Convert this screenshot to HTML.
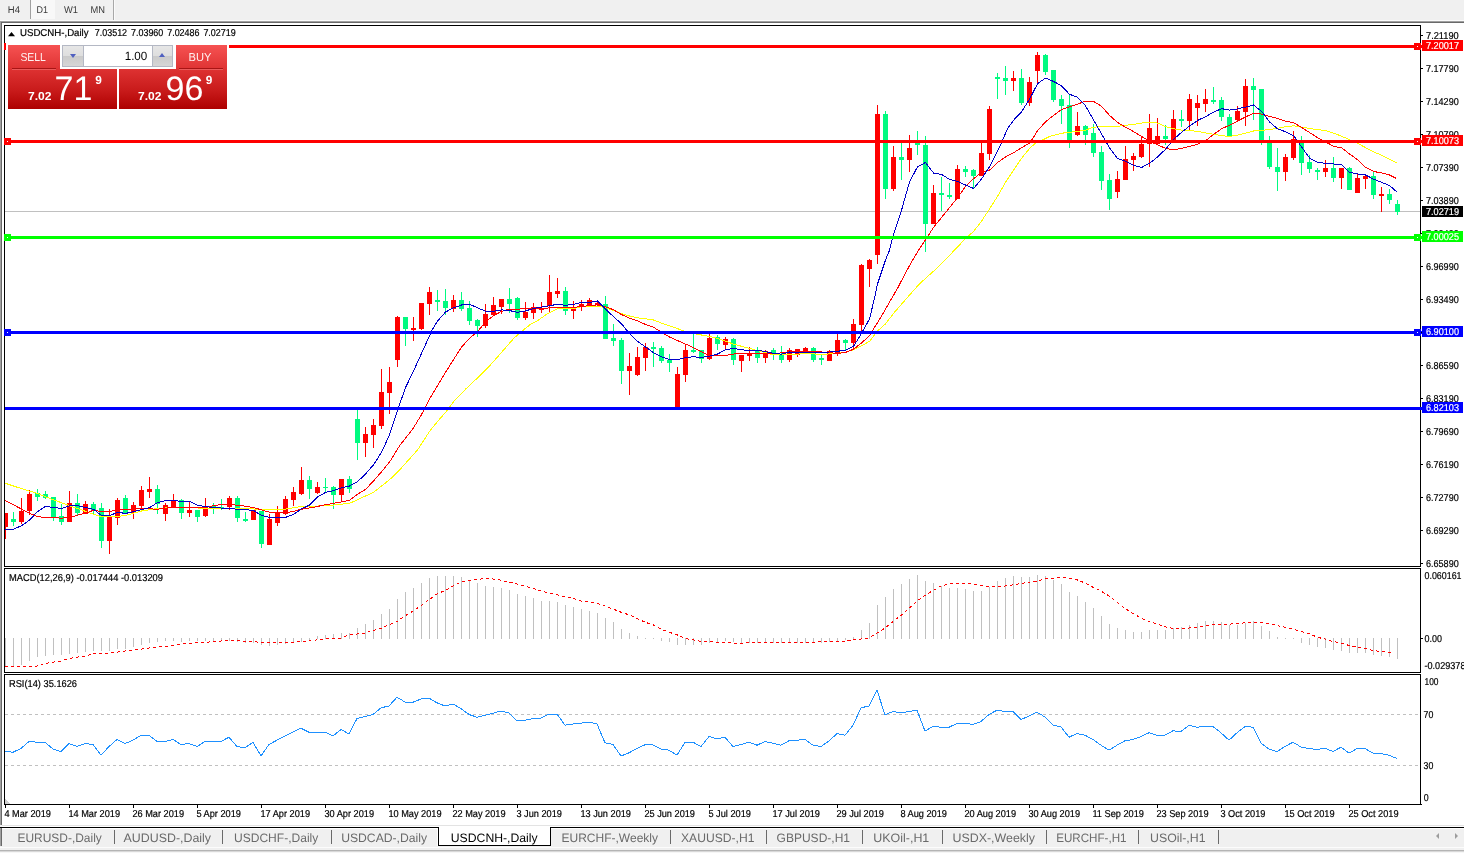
<!DOCTYPE html><html><head><meta charset="utf-8"><title>USDCNH-,Daily</title><style>
html,body{margin:0;padding:0;}
body{width:1464px;height:853px;overflow:hidden;background:#f0f0f0;font-family:"Liberation Sans",sans-serif;position:relative;}
.abs{position:absolute;}
#tb{left:0;top:0;width:1464px;height:21px;background:#f0f0f0;}
#tb span{position:absolute;top:3px;font-size:10.5px;color:#3c3c3c;line-height:13px;}
#white{left:2px;top:23px;width:1462px;height:804px;background:#fff;}
#lbar{left:0;top:22px;width:1px;height:803px;background:#a0a0a0;border-right:1px solid #696969;}
svg{position:absolute;left:0;top:0;}
svg text{font-family:"Liberation Sans",sans-serif;text-rendering:geometricPrecision;}
#tabs{left:0;top:827px;width:1464px;height:26px;background:#f0f0f0;}
.tab{position:absolute;top:830px;font-size:12px;line-height:15px;color:#6e6e6e;white-space:nowrap;}
.sep{position:absolute;top:831px;width:1px;height:15px;background:#707070;}
#panel div{position:absolute;}
.btxt{color:#fff;font-weight:bold;font-size:11px;line-height:11px;}
.big{color:#fff;font-size:34px;line-height:34px;}

</style></head><body>
<div id="tb" class="abs">
<div class="abs" style="left:30px;top:0;width:1px;height:19px;background:#a0a0a0"></div>
<div class="abs" style="left:31px;top:0;width:24px;height:19px;background:#f8f8f8"></div>
<div class="abs" style="left:113px;top:0;width:1px;height:21px;background:#a8a8a8"></div>
<div class="abs" style="left:114px;top:0;width:1px;height:21px;background:#fafafa"></div>
</div>
<div class="abs" style="left:0;top:20px;width:1464px;height:1px;background:#fbfbfb"></div>
<div class="abs" style="left:0;top:21px;width:1464px;height:1px;background:#a0a0a0"></div>
<div class="abs" style="left:1px;top:22px;width:1463px;height:1px;background:#696969"></div>
<div id="white" class="abs"></div><div id="lbar" class="abs"></div>
<div id="tabs" class="abs"></div>
<svg width="1464" height="853" viewBox="0 0 1464 853" shape-rendering="crispEdges">
<rect x="4" y="25" width="1417" height="1" fill="#000"/>
<rect x="4" y="25" width="1" height="542" fill="#000"/>
<rect x="4" y="566" width="1417" height="1" fill="#000"/>
<rect x="1420" y="25" width="1" height="542" fill="#000"/>
<rect x="1420" y="568" width="1" height="105" fill="#000"/>
<rect x="1420" y="674" width="1" height="131" fill="#000"/>
<rect x="4" y="568" width="1417" height="1" fill="#000"/>
<rect x="4" y="568" width="1" height="105" fill="#000"/>
<rect x="4" y="672" width="1417" height="1" fill="#000"/>
<rect x="4" y="674" width="1417" height="1" fill="#000"/>
<rect x="4" y="674" width="1" height="131" fill="#000"/>
<rect x="4" y="804" width="1417" height="1" fill="#000"/>
<rect x="1421" y="804" width="1" height="1" fill="#000"/>
<rect x="5" y="211" width="1415" height="1" fill="#c0c0c0"/>
<rect x="5" y="513" width="1" height="26" fill="#FF0000"/>
<rect x="5" y="513" width="3" height="14" fill="#FF0000"/>
<rect x="13" y="512" width="1" height="14" fill="#00FA80"/>
<rect x="11" y="519" width="5" height="3" fill="#00FA80"/>
<rect x="21" y="498" width="1" height="26" fill="#FF0000"/>
<rect x="19" y="511" width="5" height="11" fill="#FF0000"/>
<rect x="29" y="490" width="1" height="25" fill="#FF0000"/>
<rect x="27" y="494" width="5" height="17" fill="#FF0000"/>
<rect x="37" y="489" width="1" height="12" fill="#00FA80"/>
<rect x="35" y="493" width="5" height="4" fill="#00FA80"/>
<rect x="45" y="491" width="1" height="8" fill="#00FA80"/>
<rect x="43" y="494" width="5" height="4" fill="#00FA80"/>
<rect x="53" y="497" width="1" height="24" fill="#00FA80"/>
<rect x="51" y="497" width="5" height="21" fill="#00FA80"/>
<rect x="61" y="504" width="1" height="21" fill="#00FA80"/>
<rect x="59" y="516" width="5" height="6" fill="#00FA80"/>
<rect x="69" y="491" width="1" height="31" fill="#FF0000"/>
<rect x="67" y="503" width="5" height="19" fill="#FF0000"/>
<rect x="77" y="494" width="1" height="21" fill="#00FA80"/>
<rect x="75" y="503" width="5" height="10" fill="#00FA80"/>
<rect x="85" y="501" width="1" height="13" fill="#FF0000"/>
<rect x="83" y="504" width="5" height="10" fill="#FF0000"/>
<rect x="93" y="502" width="1" height="12" fill="#00FA80"/>
<rect x="91" y="504" width="5" height="6" fill="#00FA80"/>
<rect x="101" y="503" width="1" height="45" fill="#00FA80"/>
<rect x="99" y="508" width="5" height="33" fill="#00FA80"/>
<rect x="109" y="509" width="1" height="45" fill="#FF0000"/>
<rect x="107" y="517" width="5" height="24" fill="#FF0000"/>
<rect x="117" y="498" width="1" height="27" fill="#FF0000"/>
<rect x="115" y="500" width="5" height="18" fill="#FF0000"/>
<rect x="125" y="495" width="1" height="19" fill="#00FA80"/>
<rect x="123" y="498" width="5" height="15" fill="#00FA80"/>
<rect x="133" y="502" width="1" height="17" fill="#FF0000"/>
<rect x="131" y="505" width="5" height="8" fill="#FF0000"/>
<rect x="141" y="486" width="1" height="24" fill="#FF0000"/>
<rect x="139" y="490" width="5" height="16" fill="#FF0000"/>
<rect x="149" y="477" width="1" height="21" fill="#FF0000"/>
<rect x="147" y="489" width="5" height="3" fill="#FF0000"/>
<rect x="157" y="485" width="1" height="29" fill="#00FA80"/>
<rect x="155" y="489" width="5" height="15" fill="#00FA80"/>
<rect x="165" y="503" width="1" height="18" fill="#FF0000"/>
<rect x="163" y="505" width="5" height="9" fill="#FF0000"/>
<rect x="173" y="494" width="1" height="13" fill="#FF0000"/>
<rect x="171" y="500" width="5" height="7" fill="#FF0000"/>
<rect x="181" y="499" width="1" height="20" fill="#00FA80"/>
<rect x="179" y="500" width="5" height="13" fill="#00FA80"/>
<rect x="189" y="502" width="1" height="15" fill="#FF0000"/>
<rect x="187" y="510" width="5" height="3" fill="#FF0000"/>
<rect x="197" y="510" width="1" height="12" fill="#00FA80"/>
<rect x="195" y="510" width="5" height="7" fill="#00FA80"/>
<rect x="205" y="498" width="1" height="19" fill="#FF0000"/>
<rect x="203" y="506" width="5" height="10" fill="#FF0000"/>
<rect x="213" y="503" width="1" height="11" fill="#00FA80"/>
<rect x="211" y="506" width="5" height="3" fill="#00FA80"/>
<rect x="221" y="499" width="1" height="11" fill="#00FA80"/>
<rect x="219" y="507" width="5" height="2" fill="#00FA80"/>
<rect x="229" y="496" width="1" height="14" fill="#FF0000"/>
<rect x="227" y="498" width="5" height="9" fill="#FF0000"/>
<rect x="237" y="496" width="1" height="26" fill="#00FA80"/>
<rect x="235" y="498" width="5" height="20" fill="#00FA80"/>
<rect x="245" y="512" width="1" height="10" fill="#00FA80"/>
<rect x="243" y="519" width="5" height="2" fill="#00FA80"/>
<rect x="253" y="510" width="1" height="10" fill="#FF0000"/>
<rect x="251" y="510" width="5" height="10" fill="#FF0000"/>
<rect x="261" y="511" width="1" height="37" fill="#00FA80"/>
<rect x="259" y="511" width="5" height="33" fill="#00FA80"/>
<rect x="269" y="514" width="1" height="31" fill="#FF0000"/>
<rect x="267" y="519" width="5" height="26" fill="#FF0000"/>
<rect x="277" y="506" width="1" height="20" fill="#FF0000"/>
<rect x="275" y="512" width="5" height="11" fill="#FF0000"/>
<rect x="285" y="496" width="1" height="19" fill="#FF0000"/>
<rect x="283" y="499" width="5" height="15" fill="#FF0000"/>
<rect x="293" y="487" width="1" height="19" fill="#FF0000"/>
<rect x="291" y="492" width="5" height="8" fill="#FF0000"/>
<rect x="301" y="467" width="1" height="28" fill="#FF0000"/>
<rect x="299" y="480" width="5" height="14" fill="#FF0000"/>
<rect x="309" y="476" width="1" height="23" fill="#00FA80"/>
<rect x="307" y="480" width="5" height="9" fill="#00FA80"/>
<rect x="317" y="482" width="1" height="12" fill="#FF0000"/>
<rect x="315" y="487" width="5" height="6" fill="#FF0000"/>
<rect x="325" y="478" width="1" height="15" fill="#00FA80"/>
<rect x="323" y="487" width="5" height="1" fill="#00FA80"/>
<rect x="333" y="486" width="1" height="23" fill="#00FA80"/>
<rect x="331" y="487" width="5" height="8" fill="#00FA80"/>
<rect x="341" y="479" width="1" height="22" fill="#FF0000"/>
<rect x="339" y="479" width="5" height="16" fill="#FF0000"/>
<rect x="349" y="476" width="1" height="17" fill="#00FA80"/>
<rect x="347" y="479" width="5" height="10" fill="#00FA80"/>
<rect x="357" y="410" width="1" height="50" fill="#00FA80"/>
<rect x="355" y="419" width="5" height="24" fill="#00FA80"/>
<rect x="365" y="427" width="1" height="30" fill="#FF0000"/>
<rect x="363" y="434" width="5" height="9" fill="#FF0000"/>
<rect x="373" y="419" width="1" height="29" fill="#FF0000"/>
<rect x="371" y="425" width="5" height="10" fill="#FF0000"/>
<rect x="381" y="369" width="1" height="60" fill="#FF0000"/>
<rect x="379" y="392" width="5" height="34" fill="#FF0000"/>
<rect x="389" y="367" width="1" height="47" fill="#FF0000"/>
<rect x="387" y="382" width="5" height="11" fill="#FF0000"/>
<rect x="397" y="316" width="1" height="51" fill="#FF0000"/>
<rect x="395" y="317" width="5" height="43" fill="#FF0000"/>
<rect x="405" y="317" width="1" height="29" fill="#00FA80"/>
<rect x="403" y="317" width="5" height="12" fill="#00FA80"/>
<rect x="413" y="317" width="1" height="24" fill="#FF0000"/>
<rect x="411" y="328" width="5" height="2" fill="#FF0000"/>
<rect x="421" y="303" width="1" height="27" fill="#FF0000"/>
<rect x="419" y="303" width="5" height="26" fill="#FF0000"/>
<rect x="429" y="287" width="1" height="28" fill="#FF0000"/>
<rect x="427" y="292" width="5" height="12" fill="#FF0000"/>
<rect x="437" y="290" width="1" height="21" fill="#00FA80"/>
<rect x="435" y="300" width="5" height="2" fill="#00FA80"/>
<rect x="445" y="289" width="1" height="26" fill="#00FA80"/>
<rect x="443" y="301" width="5" height="7" fill="#00FA80"/>
<rect x="453" y="295" width="1" height="17" fill="#FF0000"/>
<rect x="451" y="300" width="5" height="9" fill="#FF0000"/>
<rect x="461" y="292" width="1" height="19" fill="#00FA80"/>
<rect x="459" y="300" width="5" height="9" fill="#00FA80"/>
<rect x="469" y="301" width="1" height="24" fill="#00FA80"/>
<rect x="467" y="308" width="5" height="13" fill="#00FA80"/>
<rect x="477" y="319" width="1" height="18" fill="#00FA80"/>
<rect x="475" y="320" width="5" height="6" fill="#00FA80"/>
<rect x="485" y="304" width="1" height="24" fill="#FF0000"/>
<rect x="483" y="314" width="5" height="12" fill="#FF0000"/>
<rect x="493" y="297" width="1" height="18" fill="#FF0000"/>
<rect x="491" y="305" width="5" height="10" fill="#FF0000"/>
<rect x="501" y="299" width="1" height="15" fill="#FF0000"/>
<rect x="499" y="299" width="5" height="8" fill="#FF0000"/>
<rect x="509" y="288" width="1" height="25" fill="#00FA80"/>
<rect x="507" y="299" width="5" height="5" fill="#00FA80"/>
<rect x="517" y="297" width="1" height="23" fill="#00FA80"/>
<rect x="515" y="298" width="5" height="20" fill="#00FA80"/>
<rect x="525" y="302" width="1" height="18" fill="#FF0000"/>
<rect x="523" y="312" width="5" height="6" fill="#FF0000"/>
<rect x="533" y="303" width="1" height="16" fill="#FF0000"/>
<rect x="531" y="307" width="5" height="6" fill="#FF0000"/>
<rect x="541" y="302" width="1" height="11" fill="#FF0000"/>
<rect x="539" y="308" width="5" height="2" fill="#FF0000"/>
<rect x="549" y="275" width="1" height="38" fill="#FF0000"/>
<rect x="547" y="292" width="5" height="14" fill="#FF0000"/>
<rect x="557" y="278" width="1" height="20" fill="#FF0000"/>
<rect x="555" y="291" width="5" height="3" fill="#FF0000"/>
<rect x="565" y="287" width="1" height="28" fill="#00FA80"/>
<rect x="563" y="291" width="5" height="20" fill="#00FA80"/>
<rect x="573" y="301" width="1" height="18" fill="#FF0000"/>
<rect x="571" y="308" width="5" height="3" fill="#FF0000"/>
<rect x="581" y="300" width="1" height="11" fill="#FF0000"/>
<rect x="579" y="304" width="5" height="3" fill="#FF0000"/>
<rect x="589" y="298" width="1" height="8" fill="#FF0000"/>
<rect x="587" y="300" width="5" height="5" fill="#FF0000"/>
<rect x="597" y="300" width="1" height="6" fill="#FF0000"/>
<rect x="595" y="303" width="5" height="2" fill="#FF0000"/>
<rect x="605" y="296" width="1" height="43" fill="#00FA80"/>
<rect x="603" y="304" width="5" height="35" fill="#00FA80"/>
<rect x="613" y="324" width="1" height="22" fill="#00FA80"/>
<rect x="611" y="338" width="5" height="3" fill="#00FA80"/>
<rect x="621" y="338" width="1" height="46" fill="#00FA80"/>
<rect x="619" y="340" width="5" height="31" fill="#00FA80"/>
<rect x="629" y="353" width="1" height="42" fill="#FF0000"/>
<rect x="627" y="366" width="5" height="5" fill="#FF0000"/>
<rect x="637" y="347" width="1" height="29" fill="#FF0000"/>
<rect x="635" y="357" width="5" height="18" fill="#FF0000"/>
<rect x="645" y="343" width="1" height="28" fill="#FF0000"/>
<rect x="643" y="347" width="5" height="11" fill="#FF0000"/>
<rect x="653" y="342" width="1" height="25" fill="#00FA80"/>
<rect x="651" y="347" width="5" height="2" fill="#00FA80"/>
<rect x="661" y="346" width="1" height="17" fill="#00FA80"/>
<rect x="659" y="348" width="5" height="13" fill="#00FA80"/>
<rect x="669" y="354" width="1" height="18" fill="#00FA80"/>
<rect x="667" y="360" width="5" height="3" fill="#00FA80"/>
<rect x="677" y="367" width="1" height="41" fill="#FF0000"/>
<rect x="675" y="374" width="5" height="34" fill="#FF0000"/>
<rect x="685" y="345" width="1" height="37" fill="#FF0000"/>
<rect x="683" y="350" width="5" height="25" fill="#FF0000"/>
<rect x="693" y="334" width="1" height="19" fill="#00FA80"/>
<rect x="691" y="350" width="5" height="2" fill="#00FA80"/>
<rect x="701" y="350" width="1" height="13" fill="#00FA80"/>
<rect x="699" y="350" width="5" height="9" fill="#00FA80"/>
<rect x="709" y="334" width="1" height="26" fill="#FF0000"/>
<rect x="707" y="338" width="5" height="21" fill="#FF0000"/>
<rect x="717" y="335" width="1" height="15" fill="#00FA80"/>
<rect x="715" y="337" width="5" height="7" fill="#00FA80"/>
<rect x="725" y="337" width="1" height="13" fill="#FF0000"/>
<rect x="723" y="339" width="5" height="6" fill="#FF0000"/>
<rect x="733" y="338" width="1" height="27" fill="#00FA80"/>
<rect x="731" y="339" width="5" height="21" fill="#00FA80"/>
<rect x="741" y="355" width="1" height="17" fill="#FF0000"/>
<rect x="739" y="355" width="5" height="6" fill="#FF0000"/>
<rect x="749" y="347" width="1" height="14" fill="#FF0000"/>
<rect x="747" y="353" width="5" height="3" fill="#FF0000"/>
<rect x="757" y="347" width="1" height="16" fill="#00FA80"/>
<rect x="755" y="351" width="5" height="7" fill="#00FA80"/>
<rect x="765" y="350" width="1" height="13" fill="#FF0000"/>
<rect x="763" y="351" width="5" height="7" fill="#FF0000"/>
<rect x="773" y="348" width="1" height="12" fill="#00FA80"/>
<rect x="771" y="350" width="5" height="5" fill="#00FA80"/>
<rect x="781" y="346" width="1" height="17" fill="#00FA80"/>
<rect x="779" y="354" width="5" height="6" fill="#00FA80"/>
<rect x="789" y="348" width="1" height="14" fill="#FF0000"/>
<rect x="787" y="350" width="5" height="10" fill="#FF0000"/>
<rect x="797" y="349" width="1" height="8" fill="#FF0000"/>
<rect x="795" y="349" width="5" height="6" fill="#FF0000"/>
<rect x="805" y="347" width="1" height="5" fill="#FF0000"/>
<rect x="803" y="348" width="5" height="3" fill="#FF0000"/>
<rect x="813" y="347" width="1" height="15" fill="#00FA80"/>
<rect x="811" y="348" width="5" height="12" fill="#00FA80"/>
<rect x="821" y="355" width="1" height="10" fill="#00FA80"/>
<rect x="819" y="358" width="5" height="2" fill="#00FA80"/>
<rect x="829" y="350" width="1" height="11" fill="#FF0000"/>
<rect x="827" y="351" width="5" height="10" fill="#FF0000"/>
<rect x="837" y="334" width="1" height="22" fill="#FF0000"/>
<rect x="835" y="340" width="5" height="14" fill="#FF0000"/>
<rect x="845" y="339" width="1" height="11" fill="#00FA80"/>
<rect x="843" y="340" width="5" height="3" fill="#00FA80"/>
<rect x="853" y="319" width="1" height="30" fill="#FF0000"/>
<rect x="851" y="324" width="5" height="19" fill="#FF0000"/>
<rect x="861" y="264" width="1" height="67" fill="#FF0000"/>
<rect x="859" y="265" width="5" height="60" fill="#FF0000"/>
<rect x="869" y="259" width="1" height="28" fill="#FF0000"/>
<rect x="867" y="260" width="5" height="9" fill="#FF0000"/>
<rect x="877" y="105" width="1" height="159" fill="#FF0000"/>
<rect x="875" y="114" width="5" height="141" fill="#FF0000"/>
<rect x="885" y="111" width="1" height="88" fill="#00FA80"/>
<rect x="883" y="114" width="5" height="75" fill="#00FA80"/>
<rect x="893" y="146" width="1" height="45" fill="#FF0000"/>
<rect x="891" y="157" width="5" height="32" fill="#FF0000"/>
<rect x="901" y="143" width="1" height="37" fill="#00FA80"/>
<rect x="899" y="157" width="5" height="3" fill="#00FA80"/>
<rect x="909" y="135" width="1" height="37" fill="#FF0000"/>
<rect x="907" y="148" width="5" height="12" fill="#FF0000"/>
<rect x="917" y="131" width="1" height="24" fill="#00FA80"/>
<rect x="915" y="143" width="5" height="2" fill="#00FA80"/>
<rect x="925" y="136" width="1" height="116" fill="#00FA80"/>
<rect x="923" y="145" width="5" height="79" fill="#00FA80"/>
<rect x="933" y="185" width="1" height="39" fill="#FF0000"/>
<rect x="931" y="193" width="5" height="31" fill="#FF0000"/>
<rect x="941" y="177" width="1" height="34" fill="#00FA80"/>
<rect x="939" y="193" width="5" height="2" fill="#00FA80"/>
<rect x="949" y="183" width="1" height="16" fill="#00FA80"/>
<rect x="947" y="195" width="5" height="2" fill="#00FA80"/>
<rect x="957" y="165" width="1" height="34" fill="#FF0000"/>
<rect x="955" y="169" width="5" height="30" fill="#FF0000"/>
<rect x="965" y="166" width="1" height="11" fill="#00FA80"/>
<rect x="963" y="169" width="5" height="3" fill="#00FA80"/>
<rect x="973" y="169" width="1" height="19" fill="#00FA80"/>
<rect x="971" y="170" width="5" height="6" fill="#00FA80"/>
<rect x="981" y="143" width="1" height="33" fill="#FF0000"/>
<rect x="979" y="153" width="5" height="23" fill="#FF0000"/>
<rect x="989" y="106" width="1" height="54" fill="#FF0000"/>
<rect x="987" y="109" width="5" height="45" fill="#FF0000"/>
<rect x="997" y="73" width="1" height="26" fill="#00FA80"/>
<rect x="995" y="77" width="5" height="2" fill="#00FA80"/>
<rect x="1005" y="66" width="1" height="29" fill="#00FA80"/>
<rect x="1003" y="78" width="5" height="3" fill="#00FA80"/>
<rect x="1013" y="71" width="1" height="20" fill="#FF0000"/>
<rect x="1011" y="78" width="5" height="3" fill="#FF0000"/>
<rect x="1021" y="69" width="1" height="36" fill="#00FA80"/>
<rect x="1019" y="78" width="5" height="25" fill="#00FA80"/>
<rect x="1029" y="77" width="1" height="29" fill="#FF0000"/>
<rect x="1027" y="82" width="5" height="21" fill="#FF0000"/>
<rect x="1037" y="52" width="1" height="31" fill="#FF0000"/>
<rect x="1035" y="55" width="5" height="16" fill="#FF0000"/>
<rect x="1045" y="54" width="1" height="21" fill="#00FA80"/>
<rect x="1043" y="55" width="5" height="17" fill="#00FA80"/>
<rect x="1053" y="70" width="1" height="32" fill="#00FA80"/>
<rect x="1051" y="70" width="5" height="30" fill="#00FA80"/>
<rect x="1061" y="95" width="1" height="29" fill="#00FA80"/>
<rect x="1059" y="99" width="5" height="7" fill="#00FA80"/>
<rect x="1069" y="95" width="1" height="53" fill="#00FA80"/>
<rect x="1067" y="105" width="5" height="36" fill="#00FA80"/>
<rect x="1077" y="112" width="1" height="24" fill="#FF0000"/>
<rect x="1075" y="126" width="5" height="9" fill="#FF0000"/>
<rect x="1085" y="125" width="1" height="20" fill="#00FA80"/>
<rect x="1083" y="126" width="5" height="9" fill="#00FA80"/>
<rect x="1093" y="124" width="1" height="33" fill="#00FA80"/>
<rect x="1091" y="133" width="5" height="20" fill="#00FA80"/>
<rect x="1101" y="146" width="1" height="44" fill="#00FA80"/>
<rect x="1099" y="152" width="5" height="29" fill="#00FA80"/>
<rect x="1109" y="174" width="1" height="36" fill="#00FA80"/>
<rect x="1107" y="180" width="5" height="19" fill="#00FA80"/>
<rect x="1117" y="171" width="1" height="27" fill="#FF0000"/>
<rect x="1115" y="179" width="5" height="13" fill="#FF0000"/>
<rect x="1125" y="146" width="1" height="34" fill="#FF0000"/>
<rect x="1123" y="159" width="5" height="21" fill="#FF0000"/>
<rect x="1133" y="153" width="1" height="18" fill="#FF0000"/>
<rect x="1131" y="156" width="5" height="4" fill="#FF0000"/>
<rect x="1141" y="137" width="1" height="21" fill="#FF0000"/>
<rect x="1139" y="144" width="5" height="13" fill="#FF0000"/>
<rect x="1149" y="114" width="1" height="53" fill="#FF0000"/>
<rect x="1147" y="128" width="5" height="16" fill="#FF0000"/>
<rect x="1157" y="118" width="1" height="26" fill="#FF0000"/>
<rect x="1155" y="136" width="5" height="8" fill="#FF0000"/>
<rect x="1165" y="125" width="1" height="20" fill="#00FA80"/>
<rect x="1163" y="136" width="5" height="3" fill="#00FA80"/>
<rect x="1173" y="110" width="1" height="31" fill="#FF0000"/>
<rect x="1171" y="119" width="5" height="21" fill="#FF0000"/>
<rect x="1181" y="110" width="1" height="17" fill="#00FA80"/>
<rect x="1179" y="119" width="5" height="2" fill="#00FA80"/>
<rect x="1189" y="94" width="1" height="36" fill="#FF0000"/>
<rect x="1187" y="99" width="5" height="22" fill="#FF0000"/>
<rect x="1197" y="95" width="1" height="31" fill="#FF0000"/>
<rect x="1195" y="103" width="5" height="5" fill="#FF0000"/>
<rect x="1205" y="89" width="1" height="23" fill="#FF0000"/>
<rect x="1203" y="99" width="5" height="5" fill="#FF0000"/>
<rect x="1213" y="87" width="1" height="17" fill="#00FA80"/>
<rect x="1211" y="100" width="5" height="2" fill="#00FA80"/>
<rect x="1221" y="97" width="1" height="24" fill="#00FA80"/>
<rect x="1219" y="100" width="5" height="17" fill="#00FA80"/>
<rect x="1229" y="114" width="1" height="23" fill="#00FA80"/>
<rect x="1227" y="117" width="5" height="19" fill="#00FA80"/>
<rect x="1237" y="106" width="1" height="16" fill="#FF0000"/>
<rect x="1235" y="111" width="5" height="9" fill="#FF0000"/>
<rect x="1245" y="79" width="1" height="47" fill="#FF0000"/>
<rect x="1243" y="86" width="5" height="26" fill="#FF0000"/>
<rect x="1253" y="78" width="1" height="42" fill="#00FA80"/>
<rect x="1251" y="86" width="5" height="4" fill="#00FA80"/>
<rect x="1261" y="89" width="1" height="56" fill="#00FA80"/>
<rect x="1259" y="89" width="5" height="52" fill="#00FA80"/>
<rect x="1269" y="136" width="1" height="33" fill="#00FA80"/>
<rect x="1267" y="143" width="5" height="24" fill="#00FA80"/>
<rect x="1277" y="148" width="1" height="43" fill="#00FA80"/>
<rect x="1275" y="167" width="5" height="5" fill="#00FA80"/>
<rect x="1285" y="154" width="1" height="27" fill="#FF0000"/>
<rect x="1283" y="157" width="5" height="15" fill="#FF0000"/>
<rect x="1293" y="131" width="1" height="29" fill="#FF0000"/>
<rect x="1291" y="139" width="5" height="19" fill="#FF0000"/>
<rect x="1301" y="136" width="1" height="39" fill="#00FA80"/>
<rect x="1299" y="143" width="5" height="20" fill="#00FA80"/>
<rect x="1309" y="155" width="1" height="18" fill="#00FA80"/>
<rect x="1307" y="162" width="5" height="7" fill="#00FA80"/>
<rect x="1317" y="168" width="1" height="12" fill="#00FA80"/>
<rect x="1315" y="170" width="5" height="2" fill="#00FA80"/>
<rect x="1325" y="160" width="1" height="17" fill="#FF0000"/>
<rect x="1323" y="168" width="5" height="4" fill="#FF0000"/>
<rect x="1333" y="157" width="1" height="25" fill="#00FA80"/>
<rect x="1331" y="168" width="5" height="10" fill="#00FA80"/>
<rect x="1341" y="168" width="1" height="21" fill="#FF0000"/>
<rect x="1339" y="168" width="5" height="10" fill="#FF0000"/>
<rect x="1349" y="167" width="1" height="23" fill="#00FA80"/>
<rect x="1347" y="168" width="5" height="22" fill="#00FA80"/>
<rect x="1357" y="174" width="1" height="19" fill="#FF0000"/>
<rect x="1355" y="178" width="5" height="15" fill="#FF0000"/>
<rect x="1365" y="174" width="1" height="15" fill="#FF0000"/>
<rect x="1363" y="176" width="5" height="3" fill="#FF0000"/>
<rect x="1373" y="172" width="1" height="27" fill="#00FA80"/>
<rect x="1371" y="176" width="5" height="19" fill="#00FA80"/>
<rect x="1381" y="187" width="1" height="25" fill="#FF0000"/>
<rect x="1379" y="194" width="5" height="2" fill="#FF0000"/>
<rect x="1389" y="189" width="1" height="15" fill="#00FA80"/>
<rect x="1387" y="194" width="5" height="6" fill="#00FA80"/>
<rect x="1397" y="200" width="1" height="15" fill="#00FA80"/>
<rect x="1395" y="204" width="5" height="8" fill="#00FA80"/>
<polyline points="5.3,483.3 21.1,488.5 37.3,493.4 53.4,499.8 68.9,505.4 84.4,511.0 101.3,516.7 116.7,516.7 126.6,515.2 141.6,511.0 154.7,508.9 173.7,507.2 189.9,507.2 199.7,508.2 204.2,508.6 228.1,508.2 253.4,508.9 261.5,509.9 284.4,509.2 301.3,506.4 326.6,505.8 349.6,503.3 373.7,492.3 389.9,479.4 399.7,469.8 417.5,450.0 429.6,431.3 437.6,421.4 445.6,412.3 453.6,401.7 465.6,389.1 477.6,377.8 489.6,365.9 497.7,356.7 505.7,347.6 513.7,338.4 521.7,331.4 529.6,325.0 537.7,320.5 545.7,314.9 553.7,310.6 557.6,308.5 565.7,308.5 573.7,308.5 581.4,306.6 589.4,306.6 597.4,306.2 605.4,307.6 613.5,310.4 621.5,313.6 629.5,316.0 637.5,317.8 645.5,318.8 653.5,320.0 661.6,323.1 669.6,325.9 677.6,328.7 685.6,331.5 693.6,333.6 701.5,335.0 709.5,336.4 717.5,338.5 725.6,341.3 733.6,344.1 741.6,346.3 749.6,348.4 757.4,350.6 773.5,354.8 789.5,354.8 805.5,353.4 821.6,354.4 837.6,353.4 845.6,352.0 853.6,349.9 861.7,345.6 869.5,341.4 877.6,330.9 885.6,323.8 893.6,313.3 901.6,304.1 909.6,295.0 917.6,285.9 925.7,278.1 933.7,271.1 940.0,264.8 945.1,260.0 957.6,246.9 965.6,238.5 973.6,231.4 981.7,220.9 989.5,208.9 997.6,196.3 1005.6,182.2 1013.6,170.2 1021.6,158.3 1029.6,148.4 1035.8,142.8 1042.8,139.9 1049.9,136.3 1061.4,133.3 1069.4,132.2 1077.4,131.5 1085.4,130.1 1093.4,127.3 1101.5,126.3 1117.5,126.3 1125.5,125.2 1133.5,124.5 1141.5,123.1 1149.6,122.1 1157.6,123.1 1165.6,126.6 1173.6,128.7 1181.6,130.1 1189.6,130.5 1197.7,131.5 1205.7,132.9 1213.7,134.3 1221.7,135.7 1229.7,136.4 1237.4,135.2 1245.5,133.1 1253.5,131.0 1261.5,130.3 1269.5,129.6 1277.5,128.2 1285.5,126.8 1293.6,125.8 1301.6,127.2 1309.6,128.5 1325.6,130.7 1333.6,133.1 1341.7,136.3 1349.5,139.6 1357.6,143.4 1365.6,147.6 1373.6,151.8 1381.6,155.3 1389.6,159.5 1396.5,162.6" fill="none" stroke="#FFFF00" stroke-width="1" shape-rendering="crispEdges" />
<polyline points="5.3,500.5 21.1,508.9 29.4,513.1 37.3,516.7 45.4,517.4 61.5,518.1 69.5,517.6 77.5,515.2 85.5,513.1 93.5,510.3 101.5,511.7 109.6,511.4 117.6,510.3 125.6,509.2 141.6,508.6 157.7,509.2 173.7,507.2 189.9,507.2 199.7,507.9 204.2,507.2 213.4,505.8 221.4,504.4 229.4,504.4 242.2,505.8 253.4,507.5 261.5,509.9 269.5,512.2 277.5,512.7 285.5,512.7 293.5,511.4 301.5,509.2 312.5,507.5 325.6,504.7 341.6,501.9 349.6,500.1 357.7,494.1 365.7,489.2 373.7,480.8 381.7,471.6 389.7,461.8 399.7,445.6 405.5,438.3 413.6,427.7 421.6,414.4 429.6,398.9 437.6,385.6 445.6,372.2 453.6,359.5 461.7,346.9 469.4,338.4 477.6,331.4 485.6,321.9 493.6,315.6 501.7,311.3 509.5,309.2 517.6,309.2 525.6,308.5 533.6,308.5 541.6,308.8 549.6,307.8 557.6,307.1 565.7,307.8 573.7,307.5 581.4,306.2 589.4,305.9 597.4,304.8 605.4,306.9 613.5,309.7 621.5,314.6 629.5,318.1 637.5,320.9 645.5,324.5 653.5,327.3 661.6,332.2 669.6,337.1 677.6,340.6 685.6,344.1 693.6,347.7 701.5,351.9 709.5,355.4 717.5,355.4 725.6,355.4 733.6,354.0 741.6,353.3 749.6,353.3 757.4,353.7 773.5,353.7 789.5,352.0 805.5,351.3 821.6,352.0 837.6,353.4 845.6,352.4 853.6,349.2 861.7,342.8 869.5,335.8 873.6,328.8 881.6,316.1 889.6,302.0 897.7,288.0 905.7,272.5 913.7,258.4 918.6,250.0 925.5,239.9 933.6,227.2 941.6,217.4 949.6,207.5 957.6,197.7 965.6,186.4 973.6,178.7 981.7,172.3 989.5,170.2 997.6,162.5 1005.6,156.9 1013.6,152.7 1021.6,147.7 1029.6,143.1 1033.7,137.0 1037.6,130.7 1045.7,121.6 1053.7,115.2 1061.4,109.7 1069.4,106.9 1077.4,104.1 1085.4,101.3 1093.4,101.3 1101.5,106.2 1109.5,115.3 1117.5,122.4 1125.5,127.3 1133.5,131.5 1141.5,136.4 1149.6,141.3 1157.6,144.9 1165.6,148.4 1173.6,149.8 1181.6,148.4 1189.6,146.3 1197.7,144.2 1205.7,140.6 1213.7,134.3 1221.7,128.7 1229.7,125.2 1237.4,121.2 1245.5,117.0 1253.5,113.2 1261.5,114.1 1269.5,116.3 1277.5,118.4 1285.5,121.2 1293.6,122.6 1301.6,127.5 1317.6,137.7 1325.6,142.0 1333.6,146.2 1341.7,147.9 1349.5,153.9 1357.6,159.8 1365.6,167.3 1373.6,171.5 1381.6,172.9 1389.6,175.0 1396.5,178.5" fill="none" stroke="#FF0000" stroke-width="1" shape-rendering="crispEdges" />
<polyline points="5.3,529.3 13.4,529.3 21.4,525.8 29.4,520.2 37.4,511.7 45.4,506.4 53.4,507.5 61.5,508.5 69.5,505.7 77.5,505.7 85.5,507.5 93.5,509.3 101.5,515.5 109.6,515.5 117.6,512.4 125.6,513.4 133.6,511.7 141.6,509.6 149.6,507.5 157.7,502.6 165.7,500.5 173.7,500.5 181.7,501.5 189.7,501.5 197.7,505.4 204.2,506.4 213.4,507.5 229.4,508.6 242.2,509.6 253.4,510.3 261.5,515.5 269.5,517.4 285.5,517.4 293.5,514.5 301.5,508.9 309.6,505.0 317.6,497.0 325.6,492.3 333.6,490.6 341.6,487.8 349.6,486.0 357.7,481.5 365.7,473.8 373.7,464.6 381.7,452.0 387.1,440.0 389.5,434.8 397.5,410.2 401.5,398.9 405.5,387.7 413.6,370.8 421.6,353.2 429.6,335.6 432.1,330.0 437.5,321.2 445.5,312.0 453.6,307.8 461.6,305.0 469.6,304.3 477.6,307.8 485.6,311.3 493.6,311.3 501.7,309.9 509.5,310.6 517.6,312.3 525.6,310.9 533.6,308.5 541.6,307.1 549.6,305.7 557.6,304.3 565.7,305.3 573.7,304.3 581.4,302.4 589.4,302.4 597.4,301.0 605.4,309.0 613.5,316.7 621.5,323.8 629.5,333.6 637.5,341.3 645.5,347.0 653.5,352.6 661.6,356.8 669.6,359.6 677.6,359.6 685.6,357.5 693.6,356.8 701.5,357.5 709.5,356.1 717.5,354.0 725.6,349.8 733.6,348.4 741.6,349.8 749.6,350.5 757.4,350.1 773.5,353.4 781.5,354.1 789.5,352.0 805.5,352.4 821.6,352.4 829.6,352.0 837.6,351.3 845.6,350.1 853.6,346.3 861.7,333.0 869.5,318.9 873.6,302.0 877.6,283.8 885.6,259.8 889.6,250.0 893.5,234.2 901.5,210.3 909.5,182.2 917.5,166.7 925.5,162.5 933.6,173.1 941.6,174.5 949.6,179.4 957.6,181.5 965.6,185.0 973.6,188.5 981.7,178.7 989.5,166.7 997.6,150.5 1001.6,142.8 1007.5,128.6 1013.6,120.2 1021.6,111.7 1029.6,99.1 1037.6,83.6 1045.7,78.0 1053.7,81.5 1061.4,85.8 1069.4,94.2 1077.4,97.3 1085.4,105.6 1093.4,119.7 1101.5,133.8 1109.5,147.8 1117.5,158.4 1125.5,161.2 1133.5,165.4 1141.5,167.5 1149.6,163.3 1157.6,157.0 1165.6,149.2 1173.6,139.4 1181.6,132.3 1189.6,126.0 1197.7,120.4 1205.7,116.6 1213.7,112.0 1221.7,108.7 1229.7,110.1 1237.4,108.9 1245.5,107.1 1253.5,105.0 1261.5,111.3 1269.5,121.9 1277.5,128.9 1285.5,131.7 1293.6,135.6 1301.6,146.9 1309.6,158.1 1317.6,162.3 1325.6,163.3 1333.6,164.0 1341.7,164.9 1349.5,172.2 1357.6,173.9 1365.6,175.0 1373.6,179.2 1381.6,182.3 1389.6,185.6 1396.5,191.6" fill="none" stroke="#0000C8" stroke-width="1" shape-rendering="crispEdges" />
<rect x="5" y="45" width="1417" height="3" fill="#FF0000"/>
<rect x="1414" y="43" width="7" height="7" fill="#FF0000"/>
<rect x="1417" y="46" width="1" height="1" fill="#fff"/>
<rect x="4" y="43" width="7" height="7" fill="#FF0000"/>
<rect x="7" y="46" width="1" height="1" fill="#fff"/>
<rect x="5" y="140" width="1417" height="3" fill="#FF0000"/>
<rect x="1414" y="138" width="7" height="7" fill="#FF0000"/>
<rect x="1417" y="141" width="1" height="1" fill="#fff"/>
<rect x="4" y="138" width="7" height="7" fill="#FF0000"/>
<rect x="7" y="141" width="1" height="1" fill="#fff"/>
<rect x="5" y="236" width="1417" height="3" fill="#00FF00"/>
<rect x="1414" y="234" width="7" height="7" fill="#00FF00"/>
<rect x="1417" y="237" width="1" height="1" fill="#fff"/>
<rect x="4" y="234" width="7" height="7" fill="#00FF00"/>
<rect x="7" y="237" width="1" height="1" fill="#fff"/>
<rect x="5" y="331" width="1417" height="3" fill="#0000FF"/>
<rect x="1414" y="329" width="7" height="7" fill="#0000FF"/>
<rect x="1417" y="332" width="1" height="1" fill="#fff"/>
<rect x="4" y="329" width="7" height="7" fill="#0000FF"/>
<rect x="7" y="332" width="1" height="1" fill="#fff"/>
<rect x="5" y="407" width="1417" height="3" fill="#0000FF"/>
<rect x="5" y="638" width="1" height="29" fill="#c0c0c0"/>
<rect x="13" y="638" width="1" height="29" fill="#c0c0c0"/>
<rect x="21" y="638" width="1" height="27" fill="#c0c0c0"/>
<rect x="29" y="638" width="1" height="23" fill="#c0c0c0"/>
<rect x="37" y="638" width="1" height="19" fill="#c0c0c0"/>
<rect x="45" y="638" width="1" height="18" fill="#c0c0c0"/>
<rect x="53" y="638" width="1" height="17" fill="#c0c0c0"/>
<rect x="61" y="638" width="1" height="17" fill="#c0c0c0"/>
<rect x="69" y="638" width="1" height="16" fill="#c0c0c0"/>
<rect x="77" y="638" width="1" height="15" fill="#c0c0c0"/>
<rect x="85" y="638" width="1" height="14" fill="#c0c0c0"/>
<rect x="93" y="638" width="1" height="13" fill="#c0c0c0"/>
<rect x="101" y="638" width="1" height="13" fill="#c0c0c0"/>
<rect x="109" y="638" width="1" height="13" fill="#c0c0c0"/>
<rect x="117" y="638" width="1" height="11" fill="#c0c0c0"/>
<rect x="125" y="638" width="1" height="11" fill="#c0c0c0"/>
<rect x="133" y="638" width="1" height="9" fill="#c0c0c0"/>
<rect x="141" y="638" width="1" height="7" fill="#c0c0c0"/>
<rect x="149" y="638" width="1" height="5" fill="#c0c0c0"/>
<rect x="157" y="638" width="1" height="4" fill="#c0c0c0"/>
<rect x="165" y="638" width="1" height="3" fill="#c0c0c0"/>
<rect x="173" y="638" width="1" height="3" fill="#c0c0c0"/>
<rect x="181" y="638" width="1" height="4" fill="#c0c0c0"/>
<rect x="189" y="638" width="1" height="3" fill="#c0c0c0"/>
<rect x="197" y="638" width="1" height="3" fill="#c0c0c0"/>
<rect x="205" y="638" width="1" height="3" fill="#c0c0c0"/>
<rect x="213" y="638" width="1" height="3" fill="#c0c0c0"/>
<rect x="221" y="638" width="1" height="3" fill="#c0c0c0"/>
<rect x="229" y="638" width="1" height="3" fill="#c0c0c0"/>
<rect x="237" y="638" width="1" height="4" fill="#c0c0c0"/>
<rect x="245" y="638" width="1" height="5" fill="#c0c0c0"/>
<rect x="253" y="638" width="1" height="5" fill="#c0c0c0"/>
<rect x="261" y="638" width="1" height="7" fill="#c0c0c0"/>
<rect x="269" y="638" width="1" height="8" fill="#c0c0c0"/>
<rect x="277" y="638" width="1" height="7" fill="#c0c0c0"/>
<rect x="285" y="638" width="1" height="6" fill="#c0c0c0"/>
<rect x="293" y="638" width="1" height="5" fill="#c0c0c0"/>
<rect x="301" y="638" width="1" height="4" fill="#c0c0c0"/>
<rect x="309" y="638" width="1" height="2" fill="#c0c0c0"/>
<rect x="317" y="636" width="1" height="3" fill="#c0c0c0"/>
<rect x="325" y="635" width="1" height="4" fill="#c0c0c0"/>
<rect x="333" y="634" width="1" height="5" fill="#c0c0c0"/>
<rect x="341" y="633" width="1" height="6" fill="#c0c0c0"/>
<rect x="349" y="633" width="1" height="6" fill="#c0c0c0"/>
<rect x="357" y="628" width="1" height="11" fill="#c0c0c0"/>
<rect x="365" y="624" width="1" height="15" fill="#c0c0c0"/>
<rect x="373" y="620" width="1" height="19" fill="#c0c0c0"/>
<rect x="381" y="614" width="1" height="25" fill="#c0c0c0"/>
<rect x="389" y="609" width="1" height="30" fill="#c0c0c0"/>
<rect x="397" y="599" width="1" height="40" fill="#c0c0c0"/>
<rect x="405" y="592" width="1" height="47" fill="#c0c0c0"/>
<rect x="413" y="588" width="1" height="51" fill="#c0c0c0"/>
<rect x="421" y="583" width="1" height="56" fill="#c0c0c0"/>
<rect x="429" y="578" width="1" height="61" fill="#c0c0c0"/>
<rect x="437" y="576" width="1" height="63" fill="#c0c0c0"/>
<rect x="445" y="576" width="1" height="63" fill="#c0c0c0"/>
<rect x="453" y="576" width="1" height="63" fill="#c0c0c0"/>
<rect x="461" y="577" width="1" height="62" fill="#c0c0c0"/>
<rect x="469" y="580" width="1" height="59" fill="#c0c0c0"/>
<rect x="477" y="583" width="1" height="56" fill="#c0c0c0"/>
<rect x="485" y="586" width="1" height="53" fill="#c0c0c0"/>
<rect x="493" y="587" width="1" height="52" fill="#c0c0c0"/>
<rect x="501" y="588" width="1" height="51" fill="#c0c0c0"/>
<rect x="509" y="590" width="1" height="49" fill="#c0c0c0"/>
<rect x="517" y="594" width="1" height="45" fill="#c0c0c0"/>
<rect x="525" y="596" width="1" height="43" fill="#c0c0c0"/>
<rect x="533" y="598" width="1" height="41" fill="#c0c0c0"/>
<rect x="541" y="601" width="1" height="38" fill="#c0c0c0"/>
<rect x="549" y="601" width="1" height="38" fill="#c0c0c0"/>
<rect x="557" y="602" width="1" height="37" fill="#c0c0c0"/>
<rect x="565" y="605" width="1" height="34" fill="#c0c0c0"/>
<rect x="573" y="607" width="1" height="32" fill="#c0c0c0"/>
<rect x="581" y="609" width="1" height="30" fill="#c0c0c0"/>
<rect x="589" y="611" width="1" height="28" fill="#c0c0c0"/>
<rect x="597" y="613" width="1" height="26" fill="#c0c0c0"/>
<rect x="605" y="618" width="1" height="21" fill="#c0c0c0"/>
<rect x="613" y="622" width="1" height="17" fill="#c0c0c0"/>
<rect x="621" y="629" width="1" height="10" fill="#c0c0c0"/>
<rect x="629" y="633" width="1" height="6" fill="#c0c0c0"/>
<rect x="637" y="636" width="1" height="3" fill="#c0c0c0"/>
<rect x="645" y="638" width="1" height="1" fill="#c0c0c0"/>
<rect x="653" y="638" width="1" height="1" fill="#c0c0c0"/>
<rect x="661" y="638" width="1" height="3" fill="#c0c0c0"/>
<rect x="669" y="638" width="1" height="4" fill="#c0c0c0"/>
<rect x="677" y="638" width="1" height="7" fill="#c0c0c0"/>
<rect x="685" y="638" width="1" height="7" fill="#c0c0c0"/>
<rect x="693" y="638" width="1" height="7" fill="#c0c0c0"/>
<rect x="701" y="638" width="1" height="7" fill="#c0c0c0"/>
<rect x="709" y="638" width="1" height="5" fill="#c0c0c0"/>
<rect x="717" y="638" width="1" height="4" fill="#c0c0c0"/>
<rect x="725" y="638" width="1" height="3" fill="#c0c0c0"/>
<rect x="733" y="638" width="1" height="4" fill="#c0c0c0"/>
<rect x="741" y="638" width="1" height="5" fill="#c0c0c0"/>
<rect x="749" y="638" width="1" height="5" fill="#c0c0c0"/>
<rect x="757" y="638" width="1" height="5" fill="#c0c0c0"/>
<rect x="765" y="638" width="1" height="5" fill="#c0c0c0"/>
<rect x="773" y="638" width="1" height="5" fill="#c0c0c0"/>
<rect x="781" y="638" width="1" height="5" fill="#c0c0c0"/>
<rect x="789" y="638" width="1" height="5" fill="#c0c0c0"/>
<rect x="797" y="638" width="1" height="5" fill="#c0c0c0"/>
<rect x="805" y="638" width="1" height="5" fill="#c0c0c0"/>
<rect x="813" y="638" width="1" height="5" fill="#c0c0c0"/>
<rect x="821" y="638" width="1" height="5" fill="#c0c0c0"/>
<rect x="829" y="638" width="1" height="4" fill="#c0c0c0"/>
<rect x="837" y="638" width="1" height="3" fill="#c0c0c0"/>
<rect x="845" y="638" width="1" height="2" fill="#c0c0c0"/>
<rect x="853" y="637" width="1" height="2" fill="#c0c0c0"/>
<rect x="861" y="630" width="1" height="9" fill="#c0c0c0"/>
<rect x="869" y="623" width="1" height="16" fill="#c0c0c0"/>
<rect x="877" y="605" width="1" height="34" fill="#c0c0c0"/>
<rect x="885" y="597" width="1" height="42" fill="#c0c0c0"/>
<rect x="893" y="589" width="1" height="50" fill="#c0c0c0"/>
<rect x="901" y="584" width="1" height="55" fill="#c0c0c0"/>
<rect x="909" y="579" width="1" height="60" fill="#c0c0c0"/>
<rect x="917" y="575" width="1" height="64" fill="#c0c0c0"/>
<rect x="925" y="581" width="1" height="58" fill="#c0c0c0"/>
<rect x="933" y="583" width="1" height="56" fill="#c0c0c0"/>
<rect x="941" y="586" width="1" height="53" fill="#c0c0c0"/>
<rect x="949" y="588" width="1" height="51" fill="#c0c0c0"/>
<rect x="957" y="588" width="1" height="51" fill="#c0c0c0"/>
<rect x="965" y="589" width="1" height="50" fill="#c0c0c0"/>
<rect x="973" y="591" width="1" height="48" fill="#c0c0c0"/>
<rect x="981" y="591" width="1" height="48" fill="#c0c0c0"/>
<rect x="989" y="587" width="1" height="52" fill="#c0c0c0"/>
<rect x="997" y="581" width="1" height="58" fill="#c0c0c0"/>
<rect x="1005" y="578" width="1" height="61" fill="#c0c0c0"/>
<rect x="1013" y="576" width="1" height="63" fill="#c0c0c0"/>
<rect x="1021" y="577" width="1" height="62" fill="#c0c0c0"/>
<rect x="1029" y="577" width="1" height="62" fill="#c0c0c0"/>
<rect x="1037" y="575" width="1" height="64" fill="#c0c0c0"/>
<rect x="1045" y="576" width="1" height="63" fill="#c0c0c0"/>
<rect x="1053" y="580" width="1" height="59" fill="#c0c0c0"/>
<rect x="1061" y="584" width="1" height="55" fill="#c0c0c0"/>
<rect x="1069" y="592" width="1" height="47" fill="#c0c0c0"/>
<rect x="1077" y="596" width="1" height="43" fill="#c0c0c0"/>
<rect x="1085" y="602" width="1" height="37" fill="#c0c0c0"/>
<rect x="1093" y="608" width="1" height="31" fill="#c0c0c0"/>
<rect x="1101" y="616" width="1" height="23" fill="#c0c0c0"/>
<rect x="1109" y="624" width="1" height="15" fill="#c0c0c0"/>
<rect x="1117" y="628" width="1" height="11" fill="#c0c0c0"/>
<rect x="1125" y="630" width="1" height="9" fill="#c0c0c0"/>
<rect x="1133" y="632" width="1" height="7" fill="#c0c0c0"/>
<rect x="1141" y="632" width="1" height="7" fill="#c0c0c0"/>
<rect x="1149" y="630" width="1" height="9" fill="#c0c0c0"/>
<rect x="1157" y="630" width="1" height="9" fill="#c0c0c0"/>
<rect x="1165" y="630" width="1" height="9" fill="#c0c0c0"/>
<rect x="1173" y="628" width="1" height="11" fill="#c0c0c0"/>
<rect x="1181" y="627" width="1" height="12" fill="#c0c0c0"/>
<rect x="1189" y="625" width="1" height="14" fill="#c0c0c0"/>
<rect x="1197" y="623" width="1" height="16" fill="#c0c0c0"/>
<rect x="1205" y="621" width="1" height="18" fill="#c0c0c0"/>
<rect x="1213" y="621" width="1" height="18" fill="#c0c0c0"/>
<rect x="1221" y="622" width="1" height="17" fill="#c0c0c0"/>
<rect x="1229" y="625" width="1" height="14" fill="#c0c0c0"/>
<rect x="1237" y="625" width="1" height="14" fill="#c0c0c0"/>
<rect x="1245" y="623" width="1" height="16" fill="#c0c0c0"/>
<rect x="1253" y="621" width="1" height="18" fill="#c0c0c0"/>
<rect x="1261" y="626" width="1" height="13" fill="#c0c0c0"/>
<rect x="1269" y="631" width="1" height="8" fill="#c0c0c0"/>
<rect x="1277" y="637" width="1" height="2" fill="#c0c0c0"/>
<rect x="1285" y="638" width="1" height="1" fill="#c0c0c0"/>
<rect x="1293" y="638" width="1" height="1" fill="#c0c0c0"/>
<rect x="1301" y="638" width="1" height="5" fill="#c0c0c0"/>
<rect x="1309" y="638" width="1" height="7" fill="#c0c0c0"/>
<rect x="1317" y="638" width="1" height="9" fill="#c0c0c0"/>
<rect x="1325" y="638" width="1" height="10" fill="#c0c0c0"/>
<rect x="1333" y="638" width="1" height="12" fill="#c0c0c0"/>
<rect x="1341" y="638" width="1" height="13" fill="#c0c0c0"/>
<rect x="1349" y="638" width="1" height="15" fill="#c0c0c0"/>
<rect x="1357" y="638" width="1" height="15" fill="#c0c0c0"/>
<rect x="1365" y="638" width="1" height="15" fill="#c0c0c0"/>
<rect x="1373" y="638" width="1" height="17" fill="#c0c0c0"/>
<rect x="1381" y="638" width="1" height="18" fill="#c0c0c0"/>
<rect x="1389" y="638" width="1" height="19" fill="#c0c0c0"/>
<rect x="1397" y="638" width="1" height="21" fill="#c0c0c0"/>
<polyline points="5.0,666.0 13.0,666.0 21.0,667.2 29.0,666.5 37.0,666.0 45.0,663.5 53.0,662.2 61.0,661.0 69.0,658.5 77.0,657.2 85.0,656.0 93.0,654.0 101.0,653.5 109.0,653.0 117.0,652.2 125.0,651.0 133.0,650.2 141.0,649.2 149.0,648.0 157.0,647.2 165.0,646.5 173.0,645.2 181.0,644.2 189.0,643.5 197.0,642.2 205.0,642.2 213.0,641.8 221.0,641.0 229.0,640.5 237.0,640.5 245.0,641.5 253.0,641.8 261.0,642.2 269.0,642.2 277.0,642.2 285.0,642.2 293.0,642.2 301.0,641.8 309.0,641.0 317.0,639.8 325.0,639.0 333.0,638.0 341.0,638.0 349.0,634.8 357.0,634.0 365.0,633.0 373.0,630.5 381.0,628.5 389.0,624.8 397.0,621.5 405.0,616.0 413.0,611.0 421.0,605.5 429.0,599.8 437.0,594.0 445.0,590.5 453.0,586.0 461.0,582.2 469.0,580.2 477.0,579.5 485.0,578.5 493.0,579.0 501.0,580.2 509.0,582.2 517.0,584.0 525.0,586.0 533.0,588.5 541.0,591.0 549.0,593.0 557.0,594.8 565.0,596.8 573.0,598.5 581.0,601.0 589.0,602.2 597.0,603.5 605.0,606.0 613.0,609.0 621.0,612.2 629.0,614.8 637.0,618.5 645.0,622.2 653.0,624.8 661.0,629.0 669.0,632.2 677.0,634.8 685.0,638.5 693.0,639.8 701.0,641.5 717.0,642.2 733.0,643.0 741.0,643.5 749.0,642.2 765.0,642.2 789.0,642.2 813.0,642.2 829.0,641.5 845.0,641.0 861.0,639.0 869.0,637.8 877.0,633.0 885.0,628.0 893.0,621.5 901.0,615.5 909.0,608.5 917.0,601.0 925.0,595.5 933.0,590.5 941.0,586.0 949.0,584.0 957.0,583.5 965.0,583.5 973.0,584.0 981.0,585.5 989.0,586.5 997.0,586.5 1005.0,586.0 1013.0,584.8 1021.0,583.5 1029.0,582.2 1037.0,581.0 1045.0,579.0 1053.0,578.5 1061.0,577.2 1069.0,578.0 1077.0,579.8 1085.0,583.0 1093.0,587.2 1101.0,591.0 1109.0,596.0 1117.0,602.2 1125.0,608.5 1133.0,613.5 1141.0,618.0 1149.0,621.5 1157.0,624.0 1165.0,626.8 1173.0,628.5 1181.0,629.0 1189.0,628.0 1197.0,627.2 1205.0,626.0 1213.0,624.8 1221.0,624.2 1229.0,624.2 1237.0,623.5 1245.0,622.8 1253.0,622.5 1261.0,622.5 1269.0,623.5 1277.0,625.5 1285.0,627.2 1293.0,629.0 1301.0,631.5 1309.0,633.5 1317.0,637.2 1325.0,639.0 1333.0,641.5 1341.0,643.0 1349.0,645.5 1357.0,647.2 1365.0,648.5 1373.0,650.5 1381.0,651.5 1389.0,652.5 1393.0,652.5" fill="none" stroke="#FF0000" stroke-width="1" shape-rendering="crispEdges" stroke-dasharray="3,3"/>
<line x1="5" y1="714.5" x2="1420" y2="714.5" stroke="#c0c0c0" stroke-width="1" stroke-dasharray="3,3"/>
<line x1="5" y1="765.5" x2="1420" y2="765.5" stroke="#c0c0c0" stroke-width="1" stroke-dasharray="3,3"/>
<polyline points="5,751.5 13,752.2 21,748.5 29,741.5 37,742.2 45,742.2 53,749.0 61,751.5 69,743.5 77,746.5 85,743.5 93,744.5 101,755.2 109,746.5 117,739.5 125,743.5 133,740.2 141,735.2 149,735.2 157,741.5 165,741.5 173,739.5 181,744.5 189,743.5 197,746.5 205,741.5 213,741.5 221,741.5 229,737.2 237,746.5 245,747.8 253,742.2 261,756.0 269,744.5 277,740.2 285,736.0 293,732.2 301,728.2 309,732.2 317,732.2 325,732.2 333,736.0 341,729.5 349,734.0 357,718.5 365,716.5 373,714.5 381,707.8 389,706.0 397,697.2 405,702.0 413,702.2 421,699.0 429,698.2 437,702.8 445,706.0 453,704.0 461,708.5 469,714.5 477,717.2 485,715.2 493,713.2 501,711.0 509,712.8 517,721.0 525,720.2 533,718.5 541,718.2 549,714.0 557,714.0 565,725.2 573,724.0 581,723.2 589,722.0 597,724.0 605,742.8 613,744.5 621,756.0 629,752.8 637,748.5 645,744.8 653,744.8 661,749.0 669,750.2 677,755.2 685,742.2 693,742.2 701,746.5 709,736.5 717,739.0 725,737.2 733,746.5 741,744.5 749,742.2 757,745.2 765,741.5 773,743.2 781,745.2 789,740.8 797,740.2 805,739.5 813,745.2 821,746.5 829,741.0 837,733.5 845,735.2 853,725.2 861,707.8 869,706.0 877,690.2 885,714.8 893,711.5 901,712.8 909,711.5 917,710.2 925,731.0 933,726.5 941,727.2 949,727.2 957,723.5 965,723.2 973,724.5 981,721.5 989,714.5 997,710.2 1005,711.5 1013,711.5 1021,719.5 1029,716.0 1037,712.2 1045,717.0 1053,725.2 1061,727.0 1069,737.2 1077,733.5 1085,735.2 1093,739.5 1101,745.2 1109,750.2 1117,745.2 1125,740.8 1133,739.5 1141,736.5 1149,732.8 1157,735.2 1165,735.2 1173,730.8 1181,731.5 1189,725.2 1197,727.2 1205,726.5 1213,726.5 1221,732.8 1229,740.2 1237,732.8 1245,726.5 1253,727.2 1261,743.2 1269,749.0 1277,751.5 1285,746.5 1293,742.2 1301,747.0 1309,748.5 1317,749.5 1325,748.2 1333,751.5 1341,747.2 1349,753.2 1357,748.5 1365,748.5 1373,753.2 1381,753.5 1389,755.2 1397,758.5" fill="none" stroke="#1E90FF" stroke-width="1" shape-rendering="crispEdges" />
<rect x="1421" y="35" width="2" height="1" fill="#000"/>
<text x="1426" y="39" font-size="10.0" fill="#000" stroke="#000" stroke-width="0.2" textLength="32.7" lengthAdjust="spacingAndGlyphs">7.21190</text>
<rect x="1421" y="68" width="2" height="1" fill="#000"/>
<text x="1426" y="72" font-size="10.0" fill="#000" stroke="#000" stroke-width="0.2" textLength="32.7" lengthAdjust="spacingAndGlyphs">7.17790</text>
<rect x="1421" y="101" width="2" height="1" fill="#000"/>
<text x="1426" y="105" font-size="10.0" fill="#000" stroke="#000" stroke-width="0.2" textLength="32.7" lengthAdjust="spacingAndGlyphs">7.14290</text>
<rect x="1421" y="134" width="2" height="1" fill="#000"/>
<text x="1426" y="138" font-size="10.0" fill="#000" stroke="#000" stroke-width="0.2" textLength="32.7" lengthAdjust="spacingAndGlyphs">7.10790</text>
<rect x="1421" y="167" width="2" height="1" fill="#000"/>
<text x="1426" y="171" font-size="10.0" fill="#000" stroke="#000" stroke-width="0.2" textLength="32.7" lengthAdjust="spacingAndGlyphs">7.07390</text>
<rect x="1421" y="200" width="2" height="1" fill="#000"/>
<text x="1426" y="204" font-size="10.0" fill="#000" stroke="#000" stroke-width="0.2" textLength="32.7" lengthAdjust="spacingAndGlyphs">7.03890</text>
<rect x="1421" y="233" width="2" height="1" fill="#000"/>
<text x="1426" y="237" font-size="10.0" fill="#000" stroke="#000" stroke-width="0.2" textLength="32.7" lengthAdjust="spacingAndGlyphs">7.00490</text>
<rect x="1421" y="266" width="2" height="1" fill="#000"/>
<text x="1426" y="270" font-size="10.0" fill="#000" stroke="#000" stroke-width="0.2" textLength="32.7" lengthAdjust="spacingAndGlyphs">6.96990</text>
<rect x="1421" y="299" width="2" height="1" fill="#000"/>
<text x="1426" y="303" font-size="10.0" fill="#000" stroke="#000" stroke-width="0.2" textLength="32.7" lengthAdjust="spacingAndGlyphs">6.93490</text>
<rect x="1421" y="332" width="2" height="1" fill="#000"/>
<text x="1426" y="336" font-size="10.0" fill="#000" stroke="#000" stroke-width="0.2" textLength="32.7" lengthAdjust="spacingAndGlyphs">6.89990</text>
<rect x="1421" y="365" width="2" height="1" fill="#000"/>
<text x="1426" y="369" font-size="10.0" fill="#000" stroke="#000" stroke-width="0.2" textLength="32.7" lengthAdjust="spacingAndGlyphs">6.86590</text>
<rect x="1421" y="398" width="2" height="1" fill="#000"/>
<text x="1426" y="402" font-size="10.0" fill="#000" stroke="#000" stroke-width="0.2" textLength="32.7" lengthAdjust="spacingAndGlyphs">6.83190</text>
<rect x="1421" y="431" width="2" height="1" fill="#000"/>
<text x="1426" y="435" font-size="10.0" fill="#000" stroke="#000" stroke-width="0.2" textLength="32.7" lengthAdjust="spacingAndGlyphs">6.79690</text>
<rect x="1421" y="464" width="2" height="1" fill="#000"/>
<text x="1426" y="468" font-size="10.0" fill="#000" stroke="#000" stroke-width="0.2" textLength="32.7" lengthAdjust="spacingAndGlyphs">6.76190</text>
<rect x="1421" y="497" width="2" height="1" fill="#000"/>
<text x="1426" y="501" font-size="10.0" fill="#000" stroke="#000" stroke-width="0.2" textLength="32.7" lengthAdjust="spacingAndGlyphs">6.72790</text>
<rect x="1421" y="530" width="2" height="1" fill="#000"/>
<text x="1426" y="534" font-size="10.0" fill="#000" stroke="#000" stroke-width="0.2" textLength="32.7" lengthAdjust="spacingAndGlyphs">6.69290</text>
<rect x="1421" y="563" width="2" height="1" fill="#000"/>
<text x="1426" y="567" font-size="10.0" fill="#000" stroke="#000" stroke-width="0.2" textLength="32.7" lengthAdjust="spacingAndGlyphs">6.65890</text>
<rect x="1422" y="40" width="41" height="11" fill="#FF0000"/>
<text x="1426" y="49" font-size="10.0" fill="#fff" stroke="#fff" stroke-width="0.2" textLength="33" lengthAdjust="spacingAndGlyphs">7.20017</text>
<rect x="1422" y="135" width="41" height="11" fill="#FF0000"/>
<text x="1426" y="144" font-size="10.0" fill="#fff" stroke="#fff" stroke-width="0.2" textLength="33" lengthAdjust="spacingAndGlyphs">7.10073</text>
<rect x="1422" y="231" width="41" height="11" fill="#00FF00"/>
<text x="1426" y="240" font-size="10.0" fill="#fff" stroke="#fff" stroke-width="0.2" textLength="33" lengthAdjust="spacingAndGlyphs">7.00025</text>
<rect x="1422" y="326" width="41" height="11" fill="#0000FF"/>
<text x="1426" y="335" font-size="10.0" fill="#fff" stroke="#fff" stroke-width="0.2" textLength="33" lengthAdjust="spacingAndGlyphs">6.90100</text>
<rect x="1422" y="402" width="41" height="11" fill="#0000FF"/>
<text x="1426" y="411" font-size="10.0" fill="#fff" stroke="#fff" stroke-width="0.2" textLength="33" lengthAdjust="spacingAndGlyphs">6.82103</text>
<rect x="1422" y="206" width="41" height="11" fill="#000"/>
<text x="1426" y="215" font-size="10.0" fill="#fff" stroke="#fff" stroke-width="0.2" textLength="33" lengthAdjust="spacingAndGlyphs">7.02719</text>
<text x="1424.5" y="579" font-size="10.0" fill="#000" stroke="#000" stroke-width="0.2" textLength="37" lengthAdjust="spacingAndGlyphs">0.060161</text>
<rect x="1421" y="638" width="2" height="1" fill="#000"/>
<text x="1424.5" y="641.5" font-size="10.0" fill="#000" stroke="#000" stroke-width="0.2" textLength="17.4" lengthAdjust="spacingAndGlyphs">0.00</text>
<text x="1424.5" y="668.6" font-size="10.0" fill="#000" stroke="#000" stroke-width="0.2" textLength="41" lengthAdjust="spacingAndGlyphs">-0.029378</text>
<text x="1424.5" y="684.8" font-size="10.0" fill="#000" stroke="#000" stroke-width="0.2" textLength="14" lengthAdjust="spacingAndGlyphs">100</text>
<text x="1423.6" y="717.6" font-size="10.0" fill="#000" stroke="#000" stroke-width="0.2" textLength="9.8" lengthAdjust="spacingAndGlyphs">70</text>
<text x="1423.6" y="768.6" font-size="10.0" fill="#000" stroke="#000" stroke-width="0.2" textLength="9.8" lengthAdjust="spacingAndGlyphs">30</text>
<text x="1423.8" y="800.6" font-size="10.0" fill="#000" stroke="#000" stroke-width="0.2" textLength="4.9" lengthAdjust="spacingAndGlyphs">0</text>
<rect x="5" y="805" width="1" height="3" fill="#000"/>
<text x="4.4" y="817" font-size="10.0" fill="#000" stroke="#000" stroke-width="0.2" textLength="46.5" lengthAdjust="spacingAndGlyphs">4 Mar 2019</text>
<rect x="69" y="805" width="1" height="3" fill="#000"/>
<text x="68.4" y="817" font-size="10.0" fill="#000" stroke="#000" stroke-width="0.2" textLength="51.7" lengthAdjust="spacingAndGlyphs">14 Mar 2019</text>
<rect x="133" y="805" width="1" height="3" fill="#000"/>
<text x="132.4" y="817" font-size="10.0" fill="#000" stroke="#000" stroke-width="0.2" textLength="51.7" lengthAdjust="spacingAndGlyphs">26 Mar 2019</text>
<rect x="197" y="805" width="1" height="3" fill="#000"/>
<text x="196.4" y="817" font-size="10.0" fill="#000" stroke="#000" stroke-width="0.2" textLength="44.5" lengthAdjust="spacingAndGlyphs">5 Apr 2019</text>
<rect x="261" y="805" width="1" height="3" fill="#000"/>
<text x="260.4" y="817" font-size="10.0" fill="#000" stroke="#000" stroke-width="0.2" textLength="49.6" lengthAdjust="spacingAndGlyphs">17 Apr 2019</text>
<rect x="325" y="805" width="1" height="3" fill="#000"/>
<text x="324.4" y="817" font-size="10.0" fill="#000" stroke="#000" stroke-width="0.2" textLength="49.6" lengthAdjust="spacingAndGlyphs">30 Apr 2019</text>
<rect x="389" y="805" width="1" height="3" fill="#000"/>
<text x="388.4" y="817" font-size="10.0" fill="#000" stroke="#000" stroke-width="0.2" textLength="53.2" lengthAdjust="spacingAndGlyphs">10 May 2019</text>
<rect x="453" y="805" width="1" height="3" fill="#000"/>
<text x="452.4" y="817" font-size="10.0" fill="#000" stroke="#000" stroke-width="0.2" textLength="53.2" lengthAdjust="spacingAndGlyphs">22 May 2019</text>
<rect x="517" y="805" width="1" height="3" fill="#000"/>
<text x="516.4" y="817" font-size="10.0" fill="#000" stroke="#000" stroke-width="0.2" textLength="45.5" lengthAdjust="spacingAndGlyphs">3 Jun 2019</text>
<rect x="581" y="805" width="1" height="3" fill="#000"/>
<text x="580.4" y="817" font-size="10.0" fill="#000" stroke="#000" stroke-width="0.2" textLength="50.6" lengthAdjust="spacingAndGlyphs">13 Jun 2019</text>
<rect x="645" y="805" width="1" height="3" fill="#000"/>
<text x="644.4" y="817" font-size="10.0" fill="#000" stroke="#000" stroke-width="0.2" textLength="50.6" lengthAdjust="spacingAndGlyphs">25 Jun 2019</text>
<rect x="709" y="805" width="1" height="3" fill="#000"/>
<text x="708.4" y="817" font-size="10.0" fill="#000" stroke="#000" stroke-width="0.2" textLength="42.5" lengthAdjust="spacingAndGlyphs">5 Jul 2019</text>
<rect x="773" y="805" width="1" height="3" fill="#000"/>
<text x="772.4" y="817" font-size="10.0" fill="#000" stroke="#000" stroke-width="0.2" textLength="47.6" lengthAdjust="spacingAndGlyphs">17 Jul 2019</text>
<rect x="837" y="805" width="1" height="3" fill="#000"/>
<text x="836.4" y="817" font-size="10.0" fill="#000" stroke="#000" stroke-width="0.2" textLength="47.6" lengthAdjust="spacingAndGlyphs">29 Jul 2019</text>
<rect x="901" y="805" width="1" height="3" fill="#000"/>
<text x="900.4" y="817" font-size="10.0" fill="#000" stroke="#000" stroke-width="0.2" textLength="46.6" lengthAdjust="spacingAndGlyphs">8 Aug 2019</text>
<rect x="965" y="805" width="1" height="3" fill="#000"/>
<text x="964.4" y="817" font-size="10.0" fill="#000" stroke="#000" stroke-width="0.2" textLength="51.7" lengthAdjust="spacingAndGlyphs">20 Aug 2019</text>
<rect x="1029" y="805" width="1" height="3" fill="#000"/>
<text x="1028.4" y="817" font-size="10.0" fill="#000" stroke="#000" stroke-width="0.2" textLength="51.7" lengthAdjust="spacingAndGlyphs">30 Aug 2019</text>
<rect x="1093" y="805" width="1" height="3" fill="#000"/>
<text x="1092.4" y="817" font-size="10.0" fill="#000" stroke="#000" stroke-width="0.2" textLength="51.5" lengthAdjust="spacingAndGlyphs">11 Sep 2019</text>
<rect x="1157" y="805" width="1" height="3" fill="#000"/>
<text x="1156.4" y="817" font-size="10.0" fill="#000" stroke="#000" stroke-width="0.2" textLength="52.2" lengthAdjust="spacingAndGlyphs">23 Sep 2019</text>
<rect x="1221" y="805" width="1" height="3" fill="#000"/>
<text x="1220.4" y="817" font-size="10.0" fill="#000" stroke="#000" stroke-width="0.2" textLength="45.0" lengthAdjust="spacingAndGlyphs">3 Oct 2019</text>
<rect x="1285" y="805" width="1" height="3" fill="#000"/>
<text x="1284.4" y="817" font-size="10.0" fill="#000" stroke="#000" stroke-width="0.2" textLength="50.1" lengthAdjust="spacingAndGlyphs">15 Oct 2019</text>
<rect x="1349" y="805" width="1" height="3" fill="#000"/>
<text x="1348.4" y="817" font-size="10.0" fill="#000" stroke="#000" stroke-width="0.2" textLength="50.1" lengthAdjust="spacingAndGlyphs">25 Oct 2019</text>
<polygon points="5,799 5,804 10,804" fill="#d0d0d0"/>
<polygon points="8,36.2 15,36.2 11.5,32" fill="#000" shape-rendering="auto"/>
<text x="20" y="36.3" font-size="10.0" fill="#000" stroke="#000" stroke-width="0.2" textLength="68.6" lengthAdjust="spacingAndGlyphs">USDCNH-,Daily</text>
<text x="94.8" y="36.3" font-size="10.0" fill="#000" stroke="#000" stroke-width="0.2" textLength="32.3" lengthAdjust="spacingAndGlyphs">7.03512</text>
<text x="131.0" y="36.3" font-size="10.0" fill="#000" stroke="#000" stroke-width="0.2" textLength="32.3" lengthAdjust="spacingAndGlyphs">7.03960</text>
<text x="167.2" y="36.3" font-size="10.0" fill="#000" stroke="#000" stroke-width="0.2" textLength="32.3" lengthAdjust="spacingAndGlyphs">7.02486</text>
<text x="203.4" y="36.3" font-size="10.0" fill="#000" stroke="#000" stroke-width="0.2" textLength="32.3" lengthAdjust="spacingAndGlyphs">7.02719</text>
<text x="9" y="581" font-size="10.0" fill="#000" stroke="#000" stroke-width="0.2" textLength="154" lengthAdjust="spacingAndGlyphs">MACD(12,26,9) -0.017444 -0.013209</text>
<text x="9" y="687" font-size="10.0" fill="#000" stroke="#000" stroke-width="0.2" textLength="68" lengthAdjust="spacingAndGlyphs">RSI(14) 35.1626</text>
</svg>
<div class="abs" style="left:2px;top:825px;width:1462px;height:1px;background:#e3e3e3"></div>
<div class="abs" style="left:0;top:827px;width:1464px;height:1px;background:#000"></div>
<div class="abs" style="left:0;top:828px;width:1464px;height:1px;background:#fff"></div>
<div class="abs" style="left:0;top:828px;width:1px;height:18px;background:#a0a0a0;border-right:1px solid #696969"></div>
<div class="abs" style="left:0;top:847px;width:1464px;height:1px;background:#fcfcfc"></div>
<div class="abs" style="left:0;top:850px;width:1464px;height:1px;background:#b4b4b4"></div>
<div class="abs" style="left:0;top:851px;width:1464px;height:1px;background:#d8d8d8"></div>
<div class="abs" style="left:0;top:852px;width:1464px;height:1px;background:#f6f6f6"></div>
<div class="abs" style="left:437px;top:828px;width:1px;height:18px;background:#fff"></div>
<div class="abs" style="left:438px;top:827px;width:113px;height:19px;background:#fff;border:1px solid #000;border-top:none;box-sizing:border-box"></div>
<div class="abs" style="left:114px;top:830px;width:1px;height:14px;background:#6a6a6a"></div>
<div class="abs" style="left:222px;top:830px;width:1px;height:14px;background:#6a6a6a"></div>
<div class="abs" style="left:331px;top:830px;width:1px;height:14px;background:#6a6a6a"></div>
<div class="abs" style="left:670px;top:830px;width:1px;height:14px;background:#6a6a6a"></div>
<div class="abs" style="left:766px;top:830px;width:1px;height:14px;background:#6a6a6a"></div>
<div class="abs" style="left:862px;top:830px;width:1px;height:14px;background:#6a6a6a"></div>
<div class="abs" style="left:942px;top:830px;width:1px;height:14px;background:#6a6a6a"></div>
<div class="abs" style="left:1046px;top:830px;width:1px;height:14px;background:#6a6a6a"></div>
<div class="abs" style="left:1138px;top:830px;width:1px;height:14px;background:#6a6a6a"></div>
<div class="abs" style="left:1218px;top:830px;width:1px;height:14px;background:#6a6a6a"></div>
<div class="abs" style="left:1435.5px;top:832.5px;width:0;height:0;border-top:3.5px solid transparent;border-bottom:3.5px solid transparent;border-right:3.5px solid #9c9c9c"></div>
<div class="abs" style="left:1454.5px;top:832.5px;width:0;height:0;border-top:3.5px solid transparent;border-bottom:3.5px solid transparent;border-left:3.5px solid #9c9c9c"></div>
<div id="panel" class="abs" style="left:0;top:0">
<div style="left:6px;top:43px;width:223px;height:67px;background:#fff"></div>
<div style="left:8px;top:45px;width:52px;height:25px;background:linear-gradient(#f65252,#de3232)"></div>
<div style="left:8px;top:69px;width:109px;height:40px;background:linear-gradient(#de3232,#c81a1a 55%,#ae0000)"></div>
<div style="left:176px;top:45px;width:51px;height:25px;background:linear-gradient(#f65252,#de3232)"></div>
<div style="left:119px;top:69px;width:108px;height:40px;background:linear-gradient(#de3232,#c81a1a 55%,#ae0000)"></div>
<div style="left:12px;top:68px;width:44px;height:1px;background:#a81414"></div>
<div style="left:12px;top:69px;width:44px;height:1px;background:#ea5a5a"></div>
<div style="left:179px;top:68px;width:44px;height:1px;background:#a81414"></div>
<div style="left:179px;top:69px;width:44px;height:1px;background:#ea5a5a"></div>
<div style="left:62px;top:45px;width:111px;height:22px;background:#fff;border:1px solid #b4b8c4;box-sizing:border-box"></div>
<div style="left:63px;top:46px;width:20px;height:20px;background:linear-gradient(#e6e6e6,#dedede 50%,#cacaca 50%,#d6d6d6);border-right:1px solid #b4b8c4"></div>
<div style="left:152px;top:46px;width:20px;height:20px;background:linear-gradient(#e6e6e6,#dedede 50%,#cacaca 50%,#d6d6d6);border-left:1px solid #b4b8c4;box-sizing:border-box"></div>
<div style="left:70px;top:54px;width:0;height:0;border-left:3px solid transparent;border-right:3px solid transparent;border-top:4px solid #5060c0"></div>
<div style="left:159px;top:53px;width:0;height:0;border-left:3px solid transparent;border-right:3px solid transparent;border-bottom:4px solid #5060c0"></div>
</div>
<svg width="1464" height="853" viewBox="0 0 1464 853">
<text x="20.4" y="60.6" font-size="11.6" fill="#fff0f0" textLength="25.5" lengthAdjust="spacingAndGlyphs">SELL</text>
<text x="188.5" y="60.6" font-size="11.6" fill="#fff0f0" textLength="22.9" lengthAdjust="spacingAndGlyphs">BUY</text>
<text x="124.7" y="59.9" font-size="12" fill="#000" textLength="22.6" lengthAdjust="spacingAndGlyphs">1.00</text>
<text x="28" y="99.8" font-size="11.6" fill="#fff" textLength="23.5" lengthAdjust="spacingAndGlyphs" font-weight="bold">7.02</text>
<text x="54.5" y="100" font-size="34" fill="#fff">71</text>
<text x="95.3" y="84" font-size="11.8" fill="#fff" font-weight="bold">9</text>
<text x="138" y="99.8" font-size="11.6" fill="#fff" textLength="23.5" lengthAdjust="spacingAndGlyphs" font-weight="bold">7.02</text>
<text x="165.5" y="100" font-size="34" fill="#fff">96</text>
<text x="205.8" y="84" font-size="11.8" fill="#fff" font-weight="bold">9</text>
<text x="7.8" y="12.6" font-size="9.8" fill="#3a3a3a" textLength="12.2" lengthAdjust="spacingAndGlyphs">H4</text>
<text x="36.5" y="12.6" font-size="9.8" fill="#3a3a3a" textLength="11.5" lengthAdjust="spacingAndGlyphs">D1</text>
<text x="64" y="12.6" font-size="9.8" fill="#3a3a3a" textLength="14" lengthAdjust="spacingAndGlyphs">W1</text>
<text x="90.5" y="12.6" font-size="9.8" fill="#3a3a3a" textLength="14.5" lengthAdjust="spacingAndGlyphs">MN</text>
<text x="17.5" y="842" font-size="12.2" fill="#6a6a6a" textLength="84.3" lengthAdjust="spacingAndGlyphs">EURUSD-,Daily</text>
<text x="123.6" y="842" font-size="12.2" fill="#6a6a6a" textLength="87.4" lengthAdjust="spacingAndGlyphs">AUDUSD-,Daily</text>
<text x="234" y="842" font-size="12.2" fill="#6a6a6a" textLength="84.3" lengthAdjust="spacingAndGlyphs">USDCHF-,Daily</text>
<text x="341.2" y="842" font-size="12.2" fill="#6a6a6a" textLength="85.8" lengthAdjust="spacingAndGlyphs">USDCAD-,Daily</text>
<text x="450.8" y="842" font-size="12.2" fill="#000" textLength="86.8" lengthAdjust="spacingAndGlyphs">USDCNH-,Daily</text>
<text x="561.5" y="842" font-size="12.2" fill="#6a6a6a" textLength="96.5" lengthAdjust="spacingAndGlyphs">EURCHF-,Weekly</text>
<text x="681" y="842" font-size="12.2" fill="#6a6a6a" textLength="73.4" lengthAdjust="spacingAndGlyphs">XAUUSD-,H1</text>
<text x="776.6" y="842" font-size="12.2" fill="#6a6a6a" textLength="73.4" lengthAdjust="spacingAndGlyphs">GBPUSD-,H1</text>
<text x="873.3" y="842" font-size="12.2" fill="#6a6a6a" textLength="56" lengthAdjust="spacingAndGlyphs">UKOil-,H1</text>
<text x="952.5" y="842" font-size="12.2" fill="#6a6a6a" textLength="82.5" lengthAdjust="spacingAndGlyphs">USDX-,Weekly</text>
<text x="1056.2" y="842" font-size="12.2" fill="#6a6a6a" textLength="70.4" lengthAdjust="spacingAndGlyphs">EURCHF-,H1</text>
<text x="1150" y="842" font-size="12.2" fill="#6a6a6a" textLength="55.5" lengthAdjust="spacingAndGlyphs">USOil-,H1</text>
</svg>
</body></html>
